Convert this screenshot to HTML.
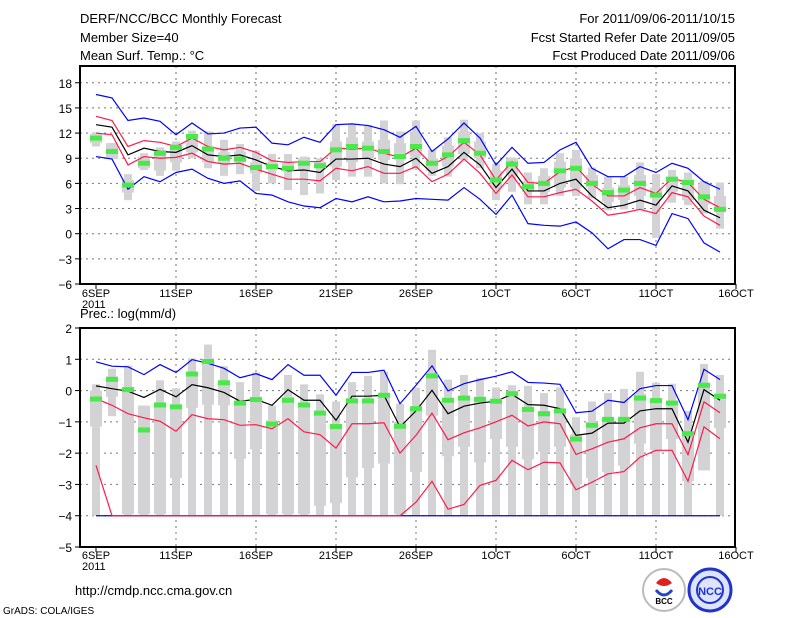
<!DOCTYPE html>
<html><head><meta charset="utf-8">
<style>
html,body{margin:0;padding:0;background:#fff;}
svg{display:block;font-family:"Liberation Sans",sans-serif;}
</style></head>
<body>
<svg id="chart" width="800" height="618" viewBox="0 0 800 618">
<rect width="800" height="618" fill="#fff"/>
<g font-size="13" fill="#000">
<text x="80" y="23">DERF/NCC/BCC Monthly Forecast</text>
<text x="80" y="42">Member Size=40</text>
<text x="80" y="60">Mean Surf. Temp.: °C</text>
<text x="735" y="23" text-anchor="end">For 2011/09/06-2011/10/15</text>
<text x="735" y="42" text-anchor="end">Fcst Started Refer Date 2011/09/05</text>
<text x="735" y="60" text-anchor="end">Fcst Produced Date 2011/09/06</text>
<text x="80" y="318">Prec.: log(mm/d)</text>
<text x="75" y="595">http://cmdp.ncc.cma.gov.cn</text>
<text x="3" y="614" font-size="10">GrADS: COLA/IGES</text>
</g>
<g>
<circle cx="664" cy="590" r="21" fill="#fff" stroke="#bbb" stroke-width="2"/>
<path d="M656 583 q8 -10 16 0 q-8 6 -16 0z" fill="#d22"/>
<path d="M656 590 q8 10 16 0" fill="none" stroke="#24c" stroke-width="3"/>
<text x="664" y="604" font-size="8" text-anchor="middle" font-weight="bold">BCC</text>
</g>
<g>
<circle cx="710" cy="590" r="21" fill="#dde4ff" stroke="#2233cc" stroke-width="3"/>
<circle cx="710" cy="590" r="13" fill="none" stroke="#2233cc" stroke-width="2"/>
<text x="710" y="595" font-size="11" text-anchor="middle" fill="#2233cc" font-weight="bold">NCC</text>
</g>
<g id="p1"></g>
<g id="p2"></g>
</svg>
<script>
// ---- Data (days 6SEP..15OCT) ----
const xTickLabels = ["6SEP","11SEP","16SEP","21SEP","26SEP","1OCT","6OCT","11OCT","16OCT"];
const tTicks = [-6,-3,0,3,6,9,12,15,18];
const pTicks = [-5,-4,-3,-2,-1,0,1,2];
const tBlueHi = [16.6,16.2,13.5,13.8,13.4,11.8,13.2,11.9,12.0,12.6,12.7,10.8,10.6,11.5,10.9,13.0,13.1,12.9,12.4,11.5,12.8,9.8,11.3,13.2,11.4,8.2,10.3,8.4,8.5,10.0,10.9,7.8,6.8,6.8,8.0,7.3,8.4,7.8,6.2,5.3];
const tRedHi = [14.0,13.5,10.4,11.1,10.9,10.4,11.4,10.4,10.0,10.3,9.7,8.7,8.5,8.6,8.6,10.2,10.1,10.2,9.6,9.1,10.2,8.2,9.2,10.9,9.4,6.4,8.6,6.1,6.0,7.4,8.0,5.9,4.5,4.5,5.5,4.8,6.6,6.1,4.1,3.1];
const tMean = [13.0,12.7,9.4,10.2,9.8,9.7,10.5,9.4,9.2,9.4,8.8,8.0,7.5,7.6,7.3,8.9,8.9,9.0,8.3,8.0,9.0,7.2,8.0,9.7,8.2,5.5,7.7,5.1,5.1,6.0,6.5,4.5,3.1,3.4,4.0,3.4,5.7,5.1,2.8,1.9];
const tRedLo = [12.0,11.8,8.2,9.2,9.0,9.1,9.6,8.6,8.3,8.4,7.7,7.1,6.5,6.5,6.3,7.8,7.5,8.0,7.2,7.2,8.0,6.2,7.1,8.9,7.2,4.8,7.0,4.4,4.4,4.9,5.3,3.9,2.2,2.5,2.9,2.4,4.9,4.4,2.1,1.0];
const tBlueLo = [9.2,8.9,5.3,6.8,6.2,7.3,7.7,6.6,6.0,6.3,4.8,4.6,3.8,3.3,3.1,4.2,3.8,4.4,3.8,3.9,4.2,4.1,4.0,5.5,4.1,2.3,4.6,1.2,1.0,0.9,1.4,0.1,-1.8,-0.7,-0.7,-1.4,2.4,1.8,-1.1,-2.2];
const tObs = [11.4,9.8,5.8,8.4,9.6,10.3,11.6,10.1,9.0,8.9,7.9,8.0,7.8,8.4,8.1,10.0,10.4,10.2,9.8,9.2,10.4,8.4,9.4,11.1,9.6,6.4,8.3,5.6,6.0,7.5,7.8,6.0,4.9,5.2,6.0,4.6,6.5,6.1,4.4,2.9];
const tMax = [12.1,10.8,7.1,9.6,10.3,11.0,12.3,12.2,11.2,10.7,9.9,9.5,9.5,9.2,9.0,13.1,13.0,13.0,13.5,12.2,13.5,10.0,11.5,13.6,12.0,8.3,9.1,7.3,7.8,9.6,10.0,7.9,6.8,6.8,8.5,7.1,7.6,7.3,6.3,6.1];
const tQ3 = [11.9,10.8,6.4,9.2,10.0,10.6,11.8,10.4,9.7,9.8,8.5,8.5,8.5,9.0,8.6,11.0,11.5,11.0,11.2,10.8,12.0,9.0,10.5,12.2,11.0,7.5,9.0,6.3,6.9,8.6,9.0,7.0,5.5,5.8,7.0,5.5,6.8,6.5,6.0,4.5];
const tQ1 = [10.8,8.9,4.9,7.8,7.5,8.5,9.7,8.5,8.3,8.5,7.2,7.6,7.6,7.6,7.9,8.0,8.5,9.0,8.8,9.0,9.2,7.5,8.0,9.5,9.0,5.5,7.0,5.0,5.0,5.5,5.5,5.5,3.8,4.0,4.5,4.5,5.0,4.0,3.5,3.0];
const tMin = [10.4,8.9,4.0,7.6,6.9,7.5,9.0,7.8,6.9,7.1,5.1,6.0,5.2,4.6,4.8,6.4,6.8,6.8,6.0,5.9,7.7,6.9,6.8,8.8,7.8,4.0,5.0,3.5,3.5,4.5,4.5,4.2,2.8,2.9,2.9,-0.5,3.7,3.4,2.4,0.6];

const pBlueHi = [0.92,0.78,0.76,0.51,0.83,0.58,0.99,0.87,0.71,0.41,0.54,0.35,0.83,0.49,0.49,-0.15,0.58,0.58,0.65,-0.42,0.17,0.79,-0.01,0.22,0.35,0.46,0.6,0.26,0.24,0.2,-0.71,-0.66,-0.31,-0.38,0.06,0.16,0.16,-0.93,0.68,0.35];
const pMean = [0.15,0.06,-0.02,-0.22,0.04,-0.2,0.19,0.09,-0.06,-0.34,-0.28,-0.47,0.03,-0.31,-0.31,-0.95,-0.18,-0.18,-0.15,-1.16,-0.65,0.01,-0.74,-0.5,-0.4,-0.34,-0.12,-0.45,-0.47,-0.58,-1.43,-1.36,-1.04,-1.04,-0.65,-0.58,-0.58,-1.65,0.03,-0.31];
const pRedHi = [-0.26,-0.47,-0.74,-0.87,-0.98,-1.3,-0.77,-0.9,-0.93,-1.11,-1.09,-1.22,-0.9,-1.32,-1.41,-1.84,-1.06,-1.06,-1.03,-2.0,-1.43,-0.72,-1.57,-1.35,-1.19,-1.0,-0.79,-1.13,-1.0,-1.06,-2.04,-1.86,-1.65,-1.54,-1.19,-1.06,-1.06,-2.05,-0.36,-0.71];
const pRedLo = [-2.39,-4,-4,-4,-4,-4,-4,-4,-4,-4,-4,-4,-4,-4,-4,-4,-4,-4,-4,-4,-3.57,-2.9,-3.79,-3.64,-3.03,-2.87,-2.23,-2.53,-2.29,-2.31,-3.17,-2.93,-2.66,-2.59,-2.13,-1.91,-1.91,-2.9,-1.16,-1.54];
const pBlueLo = [-4,-4,-4,-4,-4,-4,-4,-4,-4,-4,-4,-4,-4,-4,-4,-4,-4,-4,-4,-4,-4,-4,-4,-4,-4,-4,-4,-4,-4,-4,-4,-4,-4,-4,-4,-4,-4,-4,-4,-4];
const pObs = [-0.27,0.36,0.03,-1.26,-0.46,-0.52,0.53,0.93,0.25,-0.4,-0.29,-1.07,-0.31,-0.46,-0.72,-1.15,-0.33,-0.33,-0.15,-1.14,-0.58,0.47,-0.31,-0.24,-0.28,-0.34,-0.1,-0.6,-0.74,-0.65,-1.55,-1.11,-0.92,-0.92,-0.24,-0.32,-0.4,-1.38,0.17,-0.18];
const pMax = [0.2,0.7,0.8,-0.48,0.33,0.07,1.03,1.47,0.78,0.27,0.58,-0.48,0.5,0.2,-0.12,-0.35,0.27,0.47,0.6,-0.42,0.1,1.3,0.35,0.5,0.4,0.1,0.17,0.15,-0.08,0.1,-0.85,-0.35,-0.08,0.05,0.6,0.25,0.22,-0.65,0.85,0.5];
const pQ3 = [0.0,0.45,0.05,-0.48,-0.4,-0.5,0.5,0.9,0.3,-0.35,-0.2,-0.95,-0.2,-0.4,-0.65,-1.1,-0.25,-0.3,-0.15,-1.0,-0.5,0.5,-0.35,-0.3,-0.35,-0.4,-0.2,-0.55,-0.65,-0.6,-1.4,-1.0,-0.9,-0.9,-0.1,-0.3,-0.5,-1.3,0.1,-0.1];
const pQ1 = [-1.15,-0.2,-3.95,-3.95,-3.95,-2.8,-0.55,-0.45,-0.47,-2.18,-1.88,-3.95,-3.95,-3.95,-3.68,-3.6,-2.78,-2.48,-2.33,-3.95,-2.6,-0.8,-2.1,-1.8,-2.3,-1.55,-1.8,-2.2,-1.95,-1.8,-3.0,-2.8,-2.6,-2.4,-1.7,-1.9,-1.55,-2.9,-2.55,-1.2];
const pMin = [-4,-0.82,-4,-4,-4,-4,-4,-4,-4,-4,-4,-4,-4,-4,-4,-4,-4,-4,-4,-4,-4,-4,-4,-4,-4,-4,-4,-4,-4,-4,-4,-4,-4,-4,-4,-4,-4,-4,-2.55,-4];

const NS = "http://www.w3.org/2000/svg";
const X0 = 96, DX = 16, LEFT = 80, RIGHT = 735;
function xS(d){ return X0 + d*DX; }
function mk(parent, tag, attrs){
  const el = document.createElementNS(NS, tag);
  for (const k in attrs) el.setAttribute(k, attrs[k]);
  parent.appendChild(el);
  return el;
}
function panel(gid, top, bottom, vTop, vBot, ticks, S, lab2011y, tickLabY){
  const g = document.getElementById(gid);
  const yS = v => top + (vTop - v) * (bottom - top) / (vTop - vBot);
  // grid
  for (const t of ticks){
    const y = yS(t);
    if (y > top+1 && y < bottom-1){
      const l = mk(g,'line',{x1:LEFT,x2:RIGHT,y1:y,y2:y,stroke:'#777','stroke-dasharray':'2,4','stroke-width':1});
      
      
    }
    const tx = mk(g,'text',{x:72,y:y+5,'text-anchor':'end','font-size':12});
    tx.textContent = String(t).replace('-','\u2212');
    
    
    const tk = mk(g,'line',{x1:LEFT-5,x2:LEFT,y1:y,y2:y,stroke:'#000','stroke-width':1});
    
    
  }
  xTickLabels.forEach((lab,i)=>{
    const x = xS(i*5);
    if (i>0 && i<8){
      const l = mk(g,'line',{x1:x,x2:x,y1:top,y2:bottom,stroke:'#777','stroke-dasharray':'2,4','stroke-width':1});
      
      
    }
    const tk = mk(g,'line',{x1:x,x2:x,y1:bottom,y2:bottom+5,stroke:'#000','stroke-width':1});
    
    
    const tx = mk(g,'text',{x:x,y:tickLabY,'text-anchor':'middle','font-size':11});
    tx.textContent = lab;
    
    
  });
  const yr = mk(g,'text',{x:82,y:lab2011y,'font-size':11});
  yr.textContent = '2011';
  
  
  // boxes
  S.max.forEach((mx,d)=>{
    const x = xS(d);
    const w = mk(g,'rect',{x:x-4,y:yS(mx),width:8,height:Math.max(0,yS(S.min[d])-yS(mx)),fill:'#d3d3d6'});
    
    
    const b = mk(g,'rect',{x:x-6,y:yS(S.q3[d]),width:12,height:Math.max(0,yS(S.q1[d])-yS(S.q3[d])),fill:'#d3d3d6'});
    
    
  });
  const line = (arr,color,name)=>{
    const p = mk(g,'polyline',{points:arr.map((v,d)=>xS(d)+','+yS(v)).join(' '),fill:'none',stroke:color,'stroke-width':1.2});
    
    
  };
  line(S.blueLo,'#0000ff','blue-lower-line');
  line(S.blueHi,'#0000ff','blue-upper-line');
  line(S.redLo,'#ff1a4a','red-lower-line');
  line(S.redHi,'#ff1a4a','red-upper-line');
  line(S.mean,'#000','ensemble-mean-line');
  S.obs.forEach((v,d)=>{
    const r = mk(g,'rect',{x:xS(d)-6,y:yS(v)-2.5,width:12,height:5,fill:'#4be84b'});
    
    
  });
  const f = mk(g,'rect',{x:LEFT,y:top,width:RIGHT-LEFT,height:bottom-top,fill:'none',stroke:'#000','stroke-width':2});
  
  
}
panel('p1',66,284,20,-6,tTicks,{max:tMax,q3:tQ3,q1:tQ1,min:tMin,blueHi:tBlueHi,blueLo:tBlueLo,redHi:tRedHi,redLo:tRedLo,mean:tMean,obs:tObs},308,297);
panel('p2',328,547,2,-5,pTicks,{max:pMax,q3:pQ3,q1:pQ1,min:pMin,blueHi:pBlueHi,blueLo:pBlueLo,redHi:pRedHi,redLo:pRedLo,mean:pMean,obs:pObs},570,559);
</script>
</body></html>
